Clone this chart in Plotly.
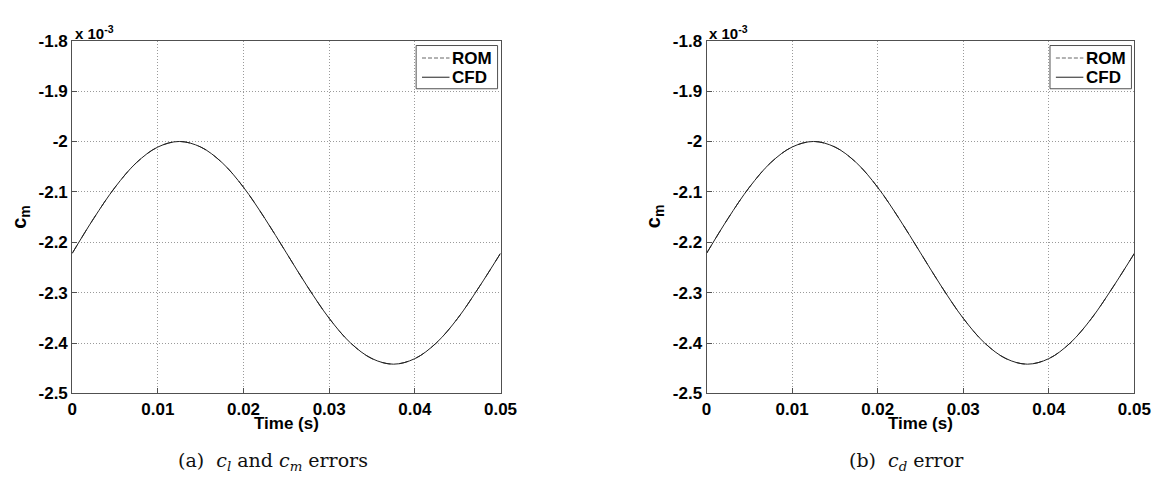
import plotly.graph_objects as go

# ---- data (c_m in units of 1e-3) ----
time_s = [0.0, 0.0025, 0.005, 0.0075, 0.01, 0.0125, 0.015, 0.0175, 0.02, 0.0225,
          0.025, 0.0275, 0.03, 0.0325, 0.035, 0.0375, 0.04, 0.0425, 0.045, 0.0475, 0.05]
cm_cfd = [-2.222, -2.153, -2.091, -2.042, -2.011, -2.000, -2.011, -2.042, -2.091, -2.153,
          -2.221, -2.289, -2.351, -2.400, -2.431, -2.442, -2.431, -2.400, -2.351, -2.289, -2.222]
cm_rom = [-2.222, -2.153, -2.091, -2.042, -2.011, -2.000, -2.011, -2.042, -2.091, -2.153,
          -2.221, -2.289, -2.351, -2.400, -2.431, -2.442, -2.431, -2.400, -2.351, -2.289, -2.222]
series_names = ["ROM", "CFD"]
y_ticks = [-2.5, -2.4, -2.3, -2.2, -2.1, -2.0, -1.9, -1.8]
y_ticklabels = ["-2.5", "-2.4", "-2.3", "-2.2", "-2.1", "-2", "-1.9", "-1.8"]
x_ticks = [0, 0.01, 0.02, 0.03, 0.04, 0.05]
x_ticklabels = ["0", "0.01", "0.02", "0.03", "0.04", "0.05"]
captions = ["(a)&nbsp;&nbsp;<i>c</i><sub><i>l</i></sub> and <i>c</i><sub><i>m</i></sub> errors",
            "(b)&nbsp;&nbsp;<i>c</i><sub><i>d</i></sub> error"]

W, H = 1171, 487
ax_left = [68.5, 715]
ax_right = [505, 1151]
ax_top, ax_bot = 33, 400
caption_cx = [273, 919]

def px(x):
    return x / W

def py(y):
    return 1 - y / H

SANS = "Liberation Sans, Arial, sans-serif"
SERIF = "DejaVu Serif, Liberation Serif, serif"
AXCOL = "#505050"
GRIDCOL = "#9a9a9a"

fig = go.Figure()
layout = dict(width=W, height=H, margin=dict(l=0, r=0, t=0, b=0),
              paper_bgcolor="white", plot_bgcolor="white", showlegend=False)

annotations = []
shapes = []
for i in range(2):
    xa = "x" if i == 0 else "x2"
    ya = "y" if i == 0 else "y2"
    fig.add_trace(go.Scatter(x=time_s, y=cm_rom, mode="lines", name=series_names[0],
                             line=dict(color="#3a3a3a", width=1, dash="dash", shape="spline"),
                             xaxis=xa, yaxis=ya))
    fig.add_trace(go.Scatter(x=time_s, y=cm_cfd, mode="lines", name=series_names[1],
                             line=dict(color="#202020", width=1, shape="spline"),
                             xaxis=xa, yaxis=ya))
    common = dict(showgrid=True, gridcolor=GRIDCOL, griddash="1px,2px", gridwidth=1,
                  showline=True, linecolor=AXCOL, linewidth=1, mirror=True,
                  ticks="inside", ticklen=5, tickcolor=AXCOL,
                  tickfont=dict(family=SANS, size=17, color="black"),
                  zeroline=False, fixedrange=True)
    axx = dict(domain=[px(ax_left[i]), px(ax_right[i])], range=[0, 0.05], tickvals=x_ticks,
               ticktext=["<b>%s</b>" % t for t in x_ticklabels], anchor=ya, **common)
    axy = dict(domain=[py(ax_bot), py(ax_top)], range=[-2.5, -1.8], tickvals=y_ticks,
               ticktext=["<b>%s</b>" % t for t in y_ticklabels], anchor=xa, **common)
    layout["xaxis" if i == 0 else "xaxis2"] = axx
    layout["yaxis" if i == 0 else "yaxis2"] = axy

    xc = (ax_left[i] + ax_right[i]) / 2
    # exponent label
    annotations.append(dict(x=px(ax_left[i] + 0.5), y=py(24), xref="paper", yref="paper",
                            text="<b>x 10<sup>-3</sup></b>", showarrow=False,
                            xanchor="left", yanchor="middle",
                            font=dict(family=SANS, size=15, color="black")))
    # x title
    annotations.append(dict(x=px(xc), y=py(431), xref="paper", yref="paper",
                            text="<b>Time (s)</b>", showarrow=False,
                            xanchor="center", yanchor="middle",
                            font=dict(family=SANS, size=17, color="black")))
    # y title
    annotations.append(dict(x=px(ax_left[i] - 53), y=py(216), xref="paper", yref="paper",
                            text="<b>c<sub>m</sub></b>", showarrow=False, textangle=-90,
                            xanchor="center", yanchor="middle",
                            font=dict(family=SANS, size=20, color="black")))
    # caption
    annotations.append(dict(x=px(caption_cx[i]), y=py(471), xref="paper", yref="paper",
                            text=captions[i], showarrow=False,
                            xanchor="center", yanchor="middle",
                            font=dict(family=SERIF, size=19, color="#111111")))

    # legend box (MATLAB style)
    lx0, lx1 = ax_right[i] - 86, ax_right[i] - 3
    ly0, ly1 = 38, 83
    shapes.append(dict(type="rect", xref="paper", yref="paper",
                       x0=px(lx0), x1=px(lx1), y0=py(ly1), y1=py(ly0),
                       line=dict(color=AXCOL, width=1), fillcolor="white", layer="above"))
    rows = [51, 71]
    dashes = ["4px,2px", "solid"]
    colors = ["#666666", "#202020"]
    for r, name in enumerate(series_names):
        shapes.append(dict(type="line", xref="paper", yref="paper",
                           x0=px(lx0 + 6), x1=px(lx0 + 34), y0=py(rows[r]), y1=py(rows[r]),
                           line=dict(color=colors[r], width=1, dash=dashes[r]), layer="above"))
        annotations.append(dict(x=px(lx0 + 35), y=py(rows[r]), xref="paper", yref="paper",
                                text="<b>%s</b>" % name, showarrow=False,
                                xanchor="left", yanchor="middle",
                                font=dict(family=SANS, size=17, color="black")))

layout["annotations"] = annotations
layout["shapes"] = shapes
fig.update_layout(**layout)
fig.write_html("out.html")
